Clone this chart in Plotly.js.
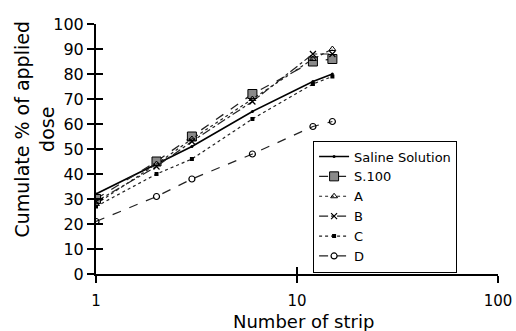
<!DOCTYPE html>
<html>
<head>
<meta charset="utf-8">
<script src="https://cdn.plot.ly/plotly-3.0.1.min.js"></script>
<style>
  html, body { margin: 0; padding: 0; background: #fff; }
  #chart { width: 516px; height: 331px; }
</style>
</head>
<body>
<div id="chart"></div>
<script>
// Data
const strips = [1, 2, 3, 6, 12, 15];
const saline = [32, 44, 51, 65, 77, 80];
const s100 = [30, 45, 55, 72, 85, 86];
const seriesA = [28, 44, 54, 70, 86, 90];
const seriesB = [29, 43, 53, 69, 88, 88];
const seriesC = [27, 40, 46, 62, 76, 79];
const seriesD = [21, 31, 38, 48, 59, 61];

const seriesNames = ['Saline Solution', 'S.100', 'A', 'B', 'C', 'D'];
const yTicks = [0, 10, 20, 30, 40, 50, 60, 70, 80, 90, 100];
const xTicks = [1, 10, 100];
const xTickText = ['1', '10', '100'];

const FONT = 'DejaVu Sans, Liberation Sans, Arial, sans-serif';

const traces = [
  {x: strips, y: saline, name: seriesNames[0], mode: 'lines+markers',
   line: {color: '#000', width: 1.6, dash: 'solid'},
   marker: {symbol: 'circle', size: 3, color: '#000'}},
  {x: strips, y: s100, name: seriesNames[1], mode: 'lines+markers',
   line: {color: '#222', width: 1.3, dash: 'dash'},
   marker: {symbol: 'square', size: 9, color: '#8a8a8a', line: {color: '#000', width: 1}}},
  {x: strips, y: seriesA, name: seriesNames[2], mode: 'lines+markers',
   line: {color: '#222', width: 1.2, dash: 'dot'},
   marker: {symbol: 'triangle-up-open', size: 6, color: '#000', line: {width: 1}}},
  {x: strips, y: seriesB, name: seriesNames[3], mode: 'lines+markers',
   line: {color: '#222', width: 1.2, dash: 'dashdot'},
   marker: {symbol: 'x-thin-open', size: 6, color: '#000', line: {width: 1.2, color: '#000'}}},
  {x: strips, y: seriesC, name: seriesNames[4], mode: 'lines+markers',
   line: {color: '#222', width: 1.2, dash: 'dot'},
   marker: {symbol: 'square', size: 4, color: '#000'}},
  {x: strips, y: seriesD, name: seriesNames[5], mode: 'lines+markers',
   line: {color: '#222', width: 1.2, dash: 'dash'},
   marker: {symbol: 'circle-open', size: 6, color: '#000', line: {width: 1.2}}},
  // helper trace so the overlaid tick-only axes are drawn (crossing ticks)
  {x: [xTicks[0]], y: [yTicks[0]], xaxis: 'x2', yaxis: 'y2', mode: 'markers',
   marker: {opacity: 0}, showlegend: false, hoverinfo: 'skip'}
];

const layout = {
  width: 516, height: 331,
  margin: {l: 96, r: 18, t: 24, b: 57},
  paper_bgcolor: '#fff', plot_bgcolor: '#fff',
  font: {family: FONT, color: '#000'},
  showlegend: true,
  legend: {
    x: 0.54, y: 0.534, xanchor: 'left', yanchor: 'top',
    bordercolor: '#000', borderwidth: 1, bgcolor: '#fff',
    font: {family: FONT, size: 13, color: '#000'},
    tracegroupgap: 0, itemwidth: 30
  },
  xaxis: {
    type: 'log', range: [0, 2], tickvals: xTicks, ticktext: xTickText,
    showgrid: false, zeroline: false,
    showline: true, linecolor: '#000', linewidth: 2,
    ticks: 'outside', ticklen: 7, tickwidth: 1.5, tickcolor: '#000',
    ticklabelstandoff: 5,
    tickfont: {family: FONT, size: 15, color: '#000'}
  },
  yaxis: {
    range: [0, 100], tickvals: yTicks,
    showgrid: false, zeroline: false,
    showline: true, linecolor: '#000', linewidth: 2,
    ticks: 'outside', ticklen: 7, tickwidth: 1.5, tickcolor: '#000',
    tickfont: {family: FONT, size: 16, color: '#000'}
  },
  xaxis2: {
    type: 'log', range: [0, 2], tickvals: xTicks, overlaying: 'x', anchor: 'y',
    side: 'bottom', showticklabels: false, showgrid: false, zeroline: false, showline: false,
    ticks: 'inside', ticklen: 7, tickwidth: 1.5, tickcolor: '#000'
  },
  yaxis2: {
    range: [0, 100], tickvals: yTicks, overlaying: 'y', anchor: 'x',
    side: 'left', showticklabels: false, showgrid: false, zeroline: false, showline: false,
    ticks: 'inside', ticklen: 7, tickwidth: 1.5, tickcolor: '#000'
  },
  annotations: [
    {text: 'Cumulate % of applied<br>dose', xref: 'paper', yref: 'paper',
     x: -0.153, y: 0.58, xanchor: 'center', yanchor: 'middle', textangle: -90,
     showarrow: false, align: 'center', font: {family: FONT, size: 19, color: '#000'}},
    {text: 'Number of strip', xref: 'paper', yref: 'paper',
     x: 0.515, y: -0.19, xanchor: 'center', yanchor: 'middle',
     showarrow: false, font: {family: FONT, size: 18, color: '#000'}}
  ]
};

Plotly.newPlot('chart', traces, layout, {displayModeBar: false, staticPlot: true});
</script>
</body>
</html>
